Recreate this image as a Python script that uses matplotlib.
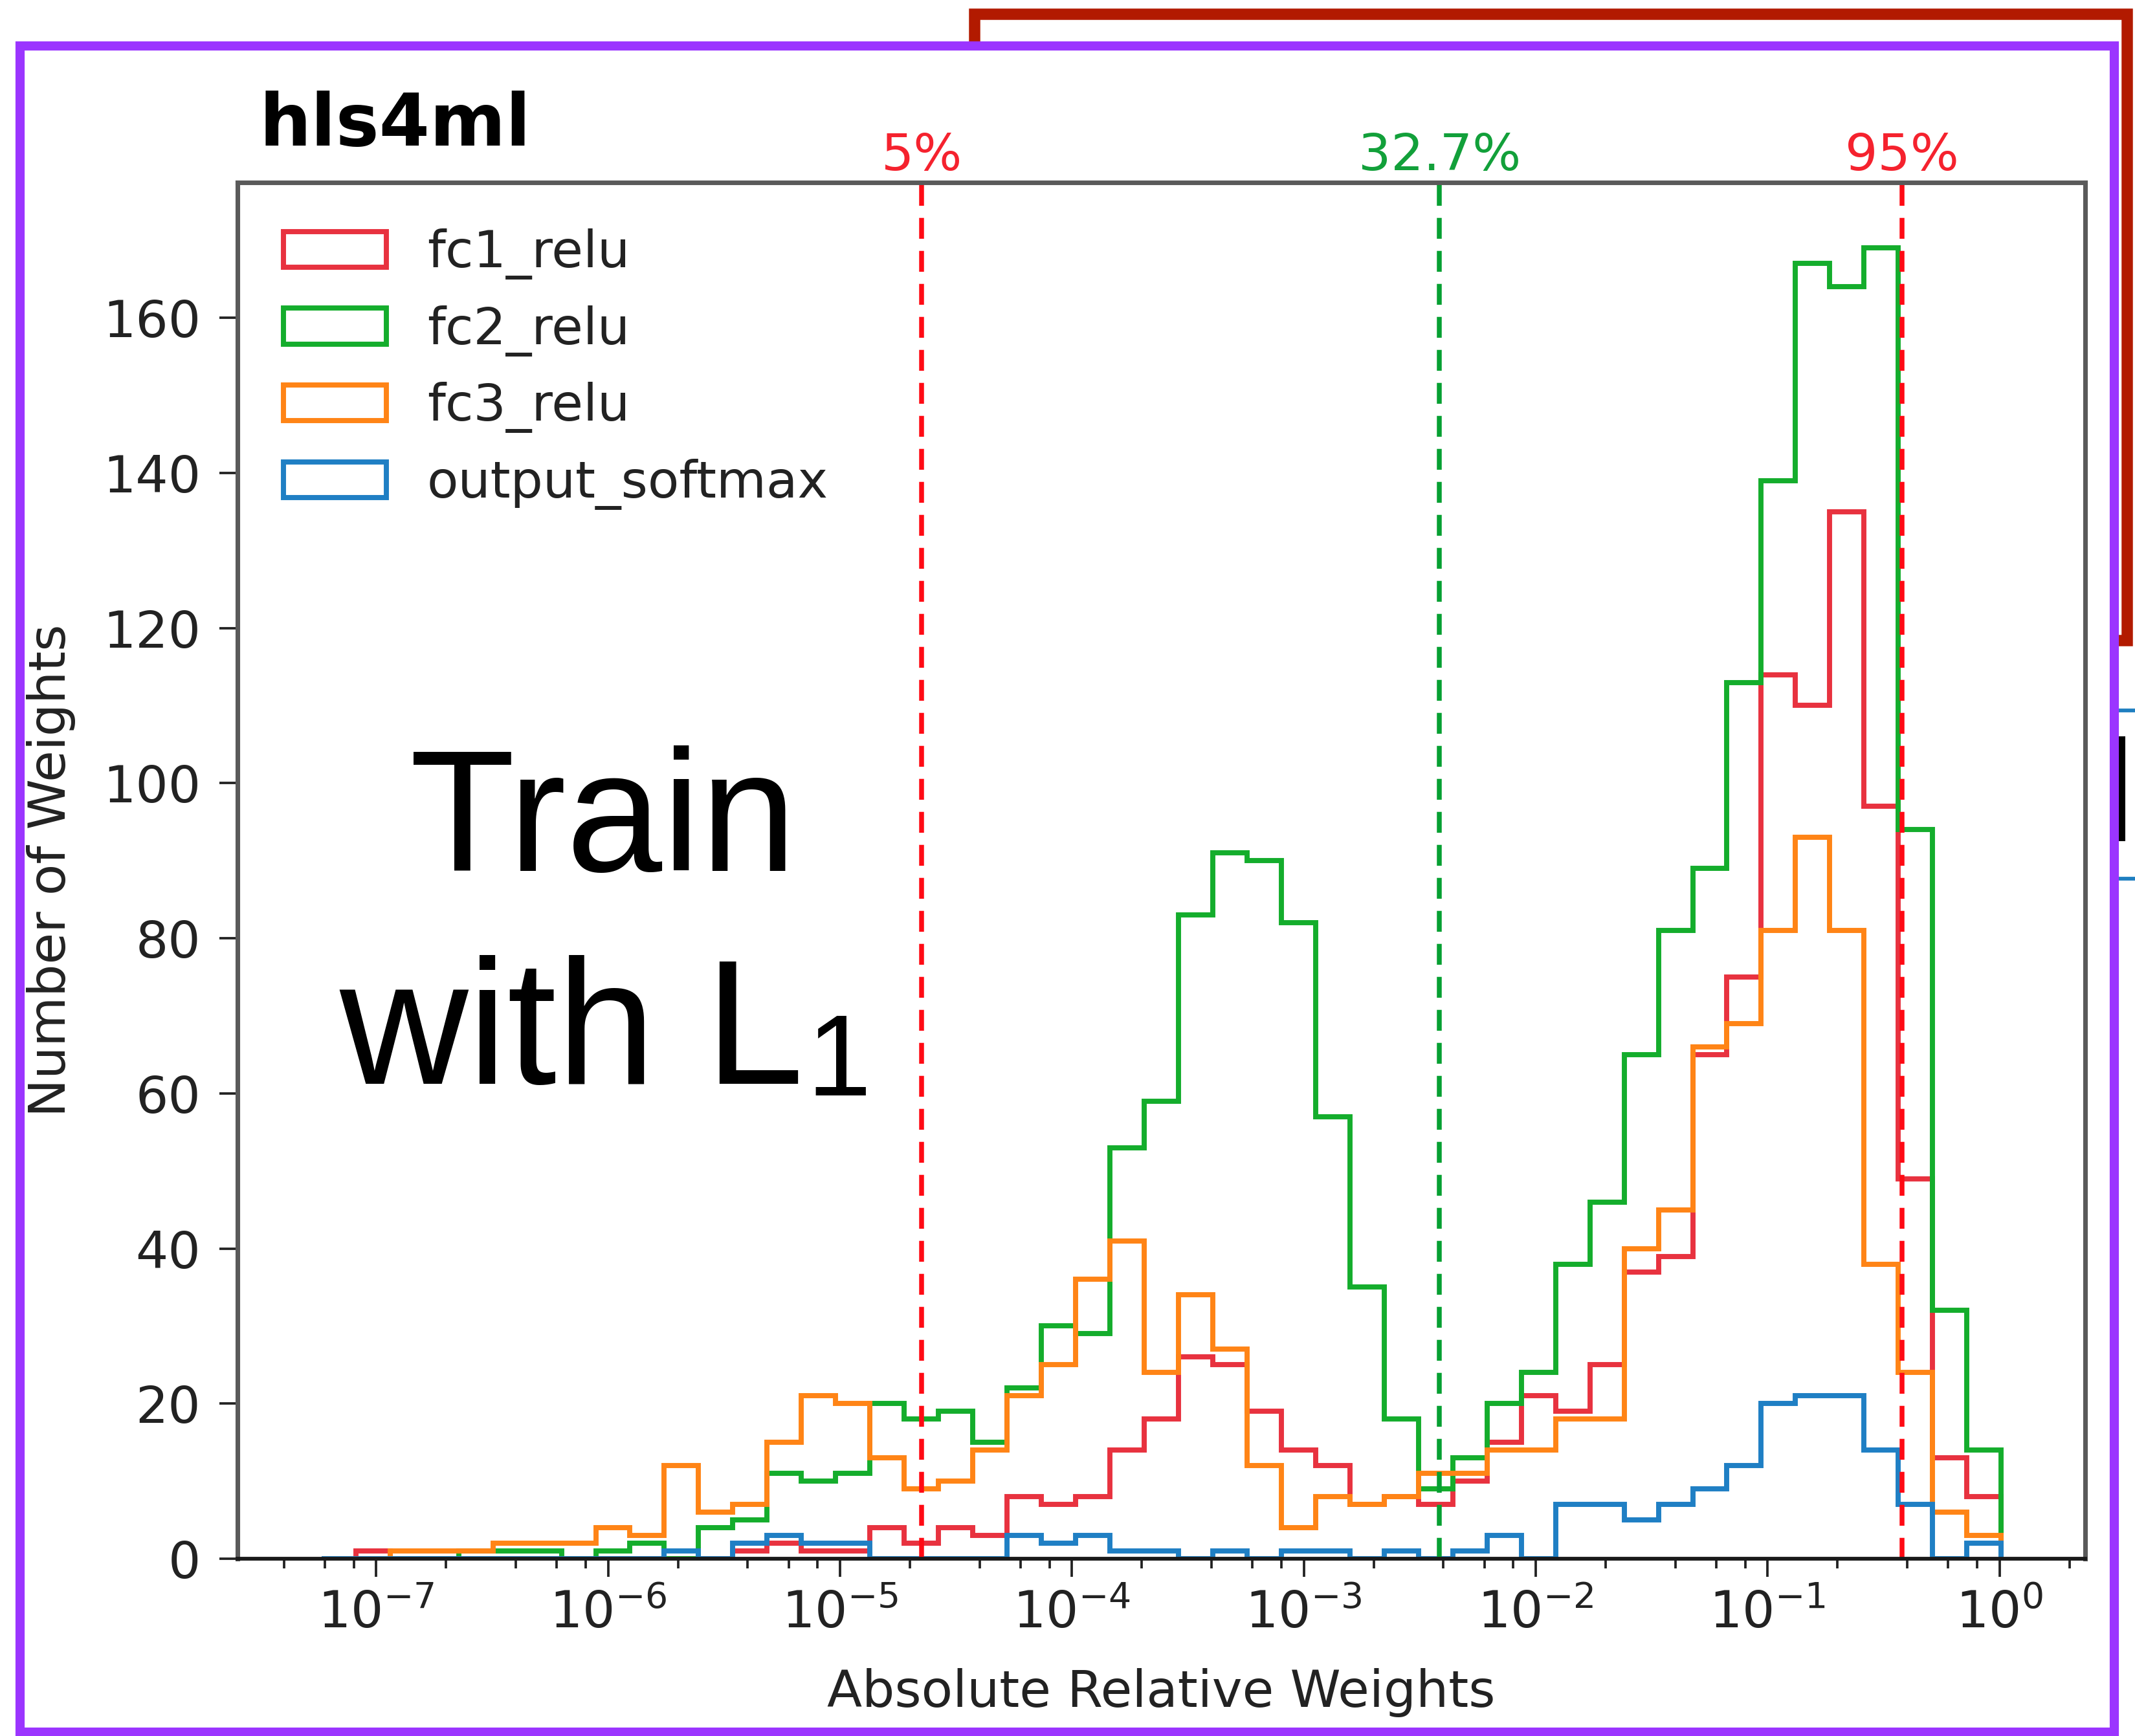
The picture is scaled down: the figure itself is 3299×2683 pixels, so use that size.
import numpy as np
import matplotlib
matplotlib.use("Agg")
import matplotlib.pyplot as plt
from matplotlib.patches import Rectangle
from matplotlib.lines import Line2D
from matplotlib.ticker import LogLocator, NullFormatter

# ---------------- data ----------------
LOG_MIN, LOG_MAX = -7.236, 0.007   # log10 range of the histogram bins
N_BINS = 49

layers = ["fc1_relu", "fc2_relu", "fc3_relu", "output_softmax"]

fc1_relu = [0, 1, 0, 0, 0, 0, 0, 0, 0, 0,
            0, 0, 1, 2, 1, 1, 4, 2, 4, 3,
            8, 7, 8, 14, 18, 26, 25, 19, 14, 12,
            7, 8, 7, 10, 15, 21, 19, 25, 37, 39,
            65, 75, 114, 110, 135, 97, 49, 13, 8]
fc2_relu = [0, 0, 0, 0, 1, 1, 1, 0, 1, 2,
            0, 4, 5, 11, 10, 11, 20, 18, 19, 15,
            22, 30, 29, 53, 59, 83, 91, 90, 82, 57,
            35, 18, 9, 13, 20, 24, 38, 46, 65, 81,
            89, 113, 139, 167, 164, 169, 94, 32, 14]
fc3_relu = [0, 0, 1, 1, 1, 2, 2, 2, 4, 3,
            12, 6, 7, 15, 21, 20, 13, 9, 10, 14,
            21, 25, 36, 41, 24, 34, 27, 12, 4, 8,
            7, 8, 11, 11, 14, 14, 18, 18, 40, 45,
            66, 69, 81, 93, 81, 38, 24, 6, 3]
output_softmax = [0, 0, 0, 0, 0, 0, 0, 0, 0, 0,
                  1, 0, 2, 3, 2, 2, 0, 0, 0, 0,
                  3, 2, 3, 1, 1, 0, 1, 0, 1, 1,
                  0, 1, 0, 1, 3, 0, 7, 7, 5, 7,
                  9, 12, 20, 21, 21, 14, 7, 0, 2]

percentile_labels = ["5%", "32.7%", "95%"]
percentile_values = [2.25e-5, 3.85e-3, 0.38]

yticks = [0, 20, 40, 60, 80, 100, 120, 140, 160]

# ---------------- style ----------------
series_colors = ["#e8323f", "#14ad2c", "#ff8416", "#1f7fc4"]
pct_line_colors = ["#ff0a14", "#06a032", "#ff0a14"]
pct_text_colors = ["#f5222e", "#12a03a", "#f5222e"]

W, H, DPI = 3299, 2683, 300
FS = 19


def fx(px):
    return px / W


def fy(py):
    return 1 - py / H


fig = plt.figure(figsize=(W / DPI, H / DPI), dpi=DPI)
fig.patch.set_facecolor("white")

# screenshot decorations (annotation boxes around the chart)
fig.add_artist(Rectangle((fx(1506), fy(990)), fx(3287) - fx(1506), fy(22) - fy(990),
                         fill=False, ec="#b21a00", lw=4.2,
                         transform=fig.transFigure, zorder=-3))
fig.add_artist(Rectangle((fx(31), fy(2700)), fx(3267) - fx(31), fy(71) - fy(2700),
                         fill=True, fc="white", ec="none",
                         transform=fig.transFigure, zorder=-2))
fig.add_artist(Line2D([fx(3270), fx(3299)], [fy(1098), fy(1098)], color="#1f7fc0",
                      lw=1.4, transform=fig.transFigure, zorder=-1))
fig.add_artist(Line2D([fx(3270), fx(3299)], [fy(1358), fy(1358)], color="#1f7fc0",
                      lw=1.4, transform=fig.transFigure, zorder=-1))
fig.add_artist(Rectangle((fx(3272), fy(1300)), fx(3284) - fx(3272), fy(1138) - fy(1300),
                         fc="black", ec="none", transform=fig.transFigure, zorder=-1))

# ---------------- axes ----------------
ax = fig.add_axes([fx(367), fy(2409), fx(3222) - fx(367), fy(282) - fy(2409)])
ax.set_xscale("log")

edges = np.logspace(LOG_MIN, LOG_MAX, N_BINS + 1)
centers = np.sqrt(edges[:-1] * edges[1:])
for name, counts, col in zip(layers, [fc1_relu, fc2_relu, fc3_relu, output_softmax],
                             series_colors):
    ax.hist(centers, bins=edges, weights=counts, histtype="step",
            color=col, lw=1.9, label=name)

for val, lab, lc, tc in zip(percentile_values, percentile_labels,
                            pct_line_colors, pct_text_colors):
    ax.axvline(val, color=lc, lw=1.8, ls=(0, (4.3, 2.5)))
    ax.text(val, 1.009, lab, transform=ax.get_xaxis_transform(), ha="center",
            va="baseline", color=tc, fontsize=FS)

ax.set_yticks(yticks)
ax.xaxis.set_major_locator(LogLocator(base=10, numticks=30))
ax.xaxis.set_minor_locator(LogLocator(base=10, subs=[2, 4, 6, 8], numticks=100))
ax.xaxis.set_minor_formatter(NullFormatter())

ax.tick_params(axis="both", which="major", length=6.7, width=0.9, labelsize=FS,
               color="#222222", labelcolor="#222222")
ax.tick_params(axis="both", which="minor", length=3.6, width=0.9, color="#222222")
ax.tick_params(axis="x", which="major", pad=4.5)
ax.tick_params(axis="y", which="major", pad=7)

for side in ["left", "right", "top"]:
    ax.spines[side].set_color("#5a5a5a")
    ax.spines[side].set_linewidth(1.7)
ax.spines["bottom"].set_color("#1a1a1a")
ax.spines["bottom"].set_linewidth(1.4)

ax.set_xlabel("Absolute Relative Weights", fontsize=FS, color="#222222", labelpad=11)
ax.set_ylabel("Number of Weights", fontsize=FS, color="#222222", labelpad=10)

leg = ax.legend(loc="upper left", frameon=False, fontsize=FS,
                handlelength=2.0, handleheight=0.7)
for t in leg.get_texts():
    t.set_color("#222222")

# ---------------- text annotations ----------------
fig.text(fx(400), fy(225), "hls4ml", fontsize=27, fontweight="bold",
         ha="left", va="baseline", color="black")
fig.text(fx(633), fy(1346), "Train", fontsize=64, family="Liberation Sans",
         ha="left", va="baseline", color="black")
fig.text(fx(524), fy(1675), "with L", fontsize=66, family="Liberation Sans",
         ha="left", va="baseline", color="black")
fig.text(fx(1246), fy(1693), "1", fontsize=43, family="Liberation Sans",
         ha="left", va="baseline", color="black")

# purple outline drawn on top
fig.add_artist(Rectangle((fx(31), fy(2677)), fx(3267) - fx(31), fy(71) - fy(2677),
                         fill=False, ec="#9b35ff", lw=3.4,
                         transform=fig.transFigure, zorder=10))

fig.savefig("out.png", dpi=DPI)
